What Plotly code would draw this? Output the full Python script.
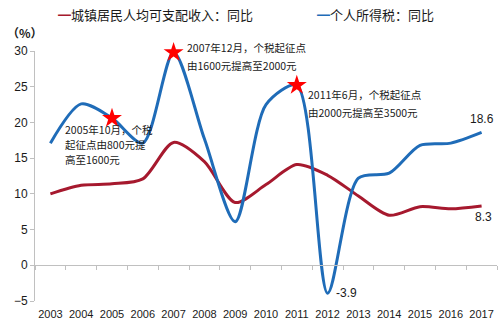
import plotly.graph_objects as go

# Year categories
years = [str(y) for y in range(2003, 2018)]

# Growth rates, % year on year
income_growth = [10.0, 11.2, 11.4, 12.1, 17.2, 14.5, 8.8, 11.3, 14.1, 12.6, 9.7, 7.0, 8.2, 7.9, 8.3]
tax_growth = [17.1, 22.6, 20.6, 17.1, 29.8, 17.7, 6.1, 22.5, 25.2, -3.9, 12.2, 12.9, 16.8, 17.1, 18.6]

income_name = "城镇居民人均可支配收入：同比"
tax_name = "个人所得税：同比"

# Years in which the tax threshold was raised
reform_years = ["2005", "2007", "2011"]
reform_notes = {
    "2005": ["2005年10月，个税", "起征点由800元提", "高至1600元"],
    "2007": ["2007年12月，个税起征点", "由1600元提高至2000元"],
    "2011": ["2011年6月，个税起征点", "由2000元提高至3500元"],
}

RED = "#a6192e"
BLUE = "#1f6cb8"
AXIS = "#c0c0c0"
TEXT = "#1a1a1a"
CJK = "Noto Sans CJK SC"
LATIN = "Liberation Sans, Arial"
SMOOTH = 0.8
NOTE_SIZE = 10.5

fig = go.Figure()

fig.add_trace(go.Scatter(
    x=years, y=income_growth, name=income_name, mode="lines",
    line=dict(color=RED, width=3, shape="spline", smoothing=SMOOTH),
    showlegend=False, hoverinfo="skip", cliponaxis=False,
))
fig.add_trace(go.Scatter(
    x=years, y=tax_growth, name=tax_name, mode="lines",
    line=dict(color=BLUE, width=3, shape="spline", smoothing=SMOOTH),
    showlegend=False, hoverinfo="skip", cliponaxis=False,
))

reform_idx = [years.index(y) for y in reform_years]
reform_vals = [tax_growth[i] for i in reform_idx]
fig.add_trace(go.Scatter(
    x=reform_years, y=reform_vals, mode="markers",
    marker=dict(symbol="star", size=15, color="#ff0000", line=dict(width=0)),
    showlegend=False, hoverinfo="skip", cliponaxis=False,
))

# Carrier trace for the axis drawn along the zero line
fig.add_trace(go.Scatter(
    x=years, y=[0] * len(years), xaxis="x2", mode="lines",
    line=dict(width=0), opacity=0, showlegend=False, hoverinfo="skip",
))

ymin, ymax = -5, 30
zero_pos = (0 - ymin) / (ymax - ymin)

annotations = []

# Legend entries
annotations.append(dict(
    xref="paper", yref="paper", x=0.046, y=1.148, xanchor="left", yanchor="middle",
    text=f'<span style="color:{RED}"><b>━</b></span>{income_name}', showarrow=False,
    font=dict(family=CJK, size=13, color=TEXT),
))
annotations.append(dict(
    xref="paper", yref="paper", x=0.607, y=1.148, xanchor="left", yanchor="middle",
    text=f'<span style="color:{BLUE}"><b>━</b></span>{tax_name}', showarrow=False,
    font=dict(family=CJK, size=13, color=TEXT),
))

# Unit label
annotations.append(dict(
    xref="paper", yref="paper", x=-0.066, y=1.072, xanchor="left", yanchor="middle",
    text="<b>（%）</b>", showarrow=False,
    font=dict(family=CJK, size=12, color=TEXT),
))

# Reform notes, placed relative to the starred points
for yr, dx, dys in [("2005", -49, (-11.5, -26.5, -41.5)),
                    ("2007", 11, (5, -13)),
                    ("2011", 9, (-9, -27))]:
    i = years.index(yr)
    for line, dy in zip(reform_notes[yr], dys):
        annotations.append(dict(
            x=i, y=tax_growth[i], xanchor="left", yanchor="middle",
            xshift=dx, yshift=dy, showarrow=False, text=line,
            font=dict(family=CJK, size=NOTE_SIZE, color=TEXT),
        ))

# Value labels
last = len(years) - 1
annotations.append(dict(
    x=last, y=tax_growth[-1], text=f"{tax_growth[-1]:.1f}", showarrow=False,
    xanchor="center", yanchor="middle", yshift=13,
    font=dict(family=LATIN, size=12, color=TEXT),
))
annotations.append(dict(
    x=last, y=income_growth[-1], text=f"{income_growth[-1]:.1f}", showarrow=False,
    xanchor="center", yanchor="middle", xshift=2, yshift=-11,
    font=dict(family=LATIN, size=12, color=TEXT),
))
i_min = tax_growth.index(min(tax_growth))
annotations.append(dict(
    x=i_min, y=tax_growth[i_min], text=f"{tax_growth[i_min]:.1f}", showarrow=False,
    xanchor="left", yanchor="middle", xshift=6,
    font=dict(family=LATIN, size=12, color=TEXT),
))

fig.update_layout(
    width=500, height=326,
    margin=dict(l=35, r=3, t=51, b=25),
    paper_bgcolor="white", plot_bgcolor="white",
    showlegend=False,
    annotations=annotations,
    xaxis=dict(
        type="category", categoryorder="array", categoryarray=years,
        range=[-0.5, len(years) - 0.5],
        showline=False, showgrid=False, zeroline=False, ticks="",
        ticklabelstandoff=5,
        tickfont=dict(family=LATIN, size=11, color=TEXT),
        fixedrange=True,
    ),
    xaxis2=dict(
        type="category", categoryorder="array", categoryarray=years,
        range=[-0.5, len(years) - 0.5],
        overlaying="x", anchor="free", position=zero_pos,
        showline=True, linecolor=AXIS, linewidth=1,
        ticks="outside", ticklen=4, tickcolor=AXIS, tickson="boundaries",
        showticklabels=False, showgrid=False, zeroline=False,
    ),
    yaxis=dict(
        range=[ymin, ymax], dtick=5, tick0=0,
        showline=True, linecolor=AXIS, linewidth=1,
        ticks="outside", ticklen=4, tickcolor=AXIS,
        showgrid=False, zeroline=False,
        tickfont=dict(family=LATIN, size=12, color=TEXT),
    ),
)

fig.write_html("out.html")
